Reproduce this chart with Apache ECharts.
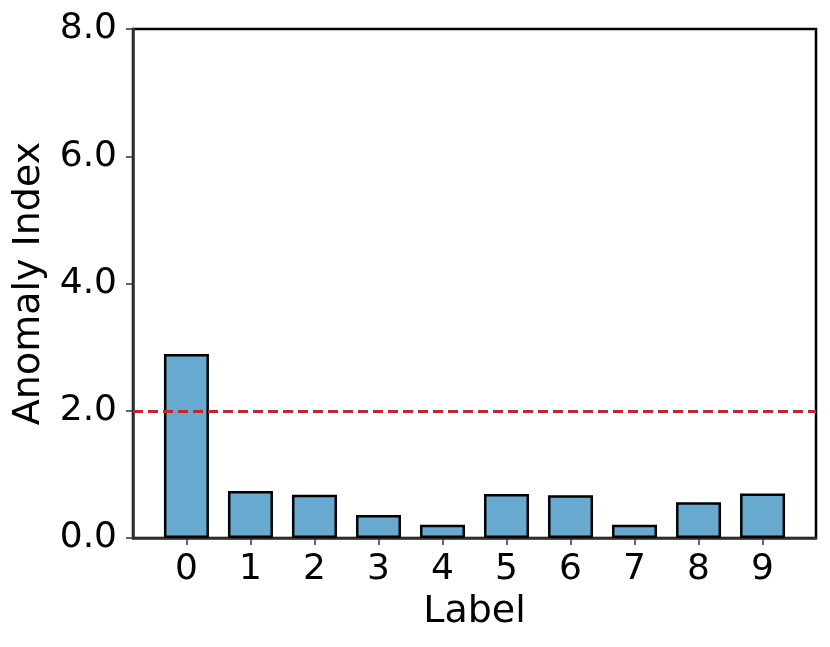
<!DOCTYPE html>
<html>
<head>
<meta charset="utf-8">
<script src="https://cdn.jsdelivr.net/npm/echarts@6/dist/echarts.min.js"></script>
<style>
  html, body { margin: 0; padding: 0; background: #fff; }
  #chart { width: 830px; height: 647px; }
</style>
</head>
<body>
<div id="chart"></div>
<script>
var labels = [0, 1, 2, 3, 4, 5, 6, 7, 8, 9];
var anomalyIndex = [2.89, 0.74, 0.68, 0.36, 0.21, 0.69, 0.67, 0.21, 0.56, 0.70];
var threshold = 2.0;
var yTicks = [0, 2, 4, 6, 8];

var chart = echarts.init(document.getElementById('chart'));
var font = 'DejaVu Sans';

var option = {
    backgroundColor: '#fff',
    animation: false,
    grid: {
        left: 133,
        right: 14,
        top: 29,
        bottom: 109,
        outerBoundsMode: 'none',
        containLabel: false,
        show: true,
        borderColor: '#000',
        borderWidth: 2.5
    },
    xAxis: {
        type: 'value',
        min: -0.835,
        max: 9.835,
        name: 'Label',
        nameLocation: 'middle',
        nameGap: 54,
        nameTextStyle: { fontFamily: font, fontSize: 38, color: '#000' },
        axisLine: { show: true, onZero: false, lineStyle: { color: '#333', width: 2.5 } },
        axisTick: { show: true, length: 7, customValues: labels, lineStyle: { color: '#333', width: 1.5 } },
        axisLabel: {
            customValues: labels,
            margin: 14,
            fontFamily: font, fontSize: 36, color: '#000'
        },
        splitLine: { show: false }
    },
    yAxis: {
        type: 'value',
        min: 0,
        max: 8,
        interval: 2,
        name: 'Anomaly Index',
        nameLocation: 'middle',
        nameGap: 85,
        nameTextStyle: { fontFamily: font, fontSize: 38, color: '#000' },
        axisLine: { show: true, onZero: false, lineStyle: { color: '#333', width: 2.5 } },
        axisTick: { show: true, length: 7, customValues: yTicks, lineStyle: { color: '#333', width: 1.5 } },
        axisLabel: {
            margin: 16,
            fontFamily: font, fontSize: 36, color: '#000',
            formatter: function (v) { return v.toFixed(1); }
        },
        splitLine: { show: false }
    },
    series: [
        {
            type: 'bar',
            barWidth: 45,
            data: labels.map(function (l, i) { return [l, anomalyIndex[i]]; }),
            itemStyle: { color: '#67a9cf', borderColor: '#000', borderWidth: 2.5 },
            markLine: {
                silent: true,
                symbol: 'none',
                label: { show: false },
                lineStyle: { color: '#c4262b', width: 3, type: [10, 5] },
                data: [{ yAxis: threshold }]
            }
        }
    ]
};
chart.setOption(option);
window.addEventListener('resize', chart.resize);
</script>
</body>
</html>
